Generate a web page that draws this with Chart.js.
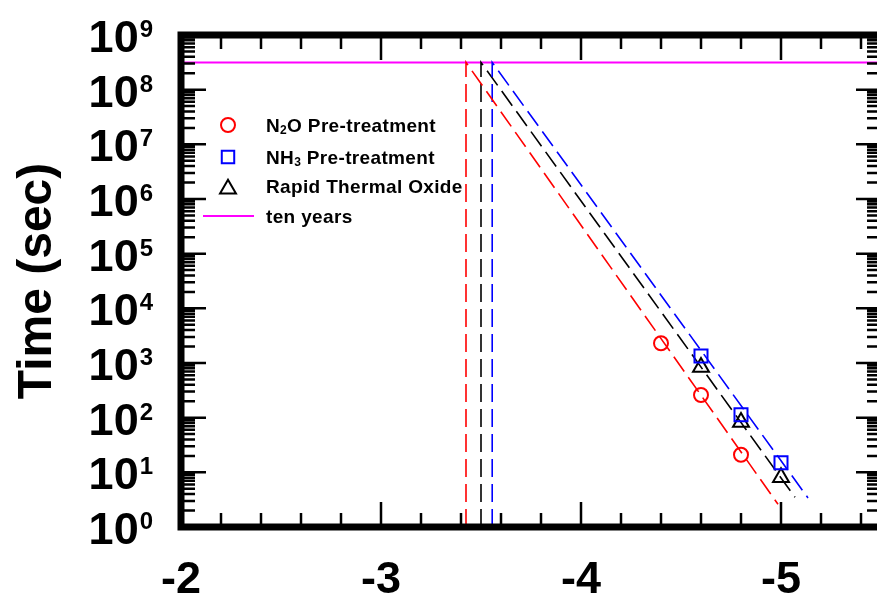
<!DOCTYPE html>
<html>
<head>
<meta charset="utf-8">
<script src="https://cdn.jsdelivr.net/npm/chart.js@4/dist/chart.umd.min.js"></script>
<style>
html, body { margin: 0; padding: 0; background: #fff; }
#frame { width: 877px; height: 601px; overflow: hidden; }
#chart { display: block; }
</style>
</head>
<body>
<div id="frame"><canvas id="chart" width="884" height="601"></canvas></div>
<script>
// stress bias (V) and time to breakdown (s) for each gate dielectric
const n2oBias = [-4.4, -4.6, -4.8];
const n2oTime = [2300, 260, 21];
const nh3Bias = [-4.6, -4.8, -5.0];
const nh3Time = [1340, 113, 15];
const rtoBias = [-4.6, -4.8, -5.0];
const rtoTime = [840, 83, 8.1];

// extrapolated fits: foot of the drop line, ten-year crossing, low end
const n2oFitBias = [-3.425, -3.425, -4.985];
const n2oFitTime = [1, 3.156e8, 2.6];
const nh3FitBias = [-3.556, -3.556, -5.135];
const nh3FitTime = [1, 3.156e8, 3.4];
const rtoFitBias = [-3.5, -3.5, -5.07];
const rtoFitTime = [1, 3.156e8, 3.5];

const tenYears = 3.156e8;
const biasRange = [-2, -5.5];
const xTickValues = [-2, -3, -4, -5];
const yTickExponents = [0, 1, 2, 3, 4, 5, 6, 7, 8, 9];

const FONT = "'Liberation Sans', Arial, sans-serif";
const RED = '#ff0000', BLUE = '#0000ff', BLACK = '#000000', MAGENTA = '#ff00ff';

const toPoints = (xs, ys) => xs.map((x, i) => ({ x, y: ys[i] }));

const markerSet = (label, xs, ys, color, style, radius) => ({
    label,
    data: toPoints(xs, ys),
    pointStyle: style,
    pointRadius: radius,
    borderColor: color,
    backgroundColor: 'rgba(0,0,0,0)',
    borderWidth: 2,
    showLine: false,
    isMarker: true
});

const fitSet = (label, xs, ys, color) => ({
    label,
    data: toPoints(xs, ys),
    showLine: true,
    borderColor: color,
    borderWidth: 1.6,
    borderDash: [18, 7],
    pointRadius: 0,
    fill: false
});

// subscript digits in labels get drawn small and dropped
const SUBS = { '₀': '0', '₁': '1', '₂': '2', '₃': '3', '₄': '4', '₅': '5', '₆': '6', '₇': '7', '₈': '8', '₉': '9' };

drawRichText = (ctx, text, x, baseline) => {
    const runs = text.match(/[₀-₉]+|[^₀-₉]+/g) || [];
    let cx = x;
    ctx.letterSpacing = '0.35px';
    runs.forEach(run => {
        const isSub = SUBS[run[0]] !== undefined;
        const s = isSub ? [...run].map(c => SUBS[c]).join('') : run;
        ctx.font = isSub ? `bold 12px ${FONT}` : `bold 19px ${FONT}`;
        ctx.fillText(s, cx, isSub ? baseline + 2.5 : baseline);
        cx += ctx.measureText(s).width;
    });
    ctx.letterSpacing = '0px';
}

// box frame, inward ticks, 10^n labels and the legend
const framePlugin = {
    id: 'frame',
    afterDraw(chart) {
        const { ctx, chartArea: a, scales: { x, y } } = chart;
        ctx.save();
        ctx.strokeStyle = BLACK;
        ctx.fillStyle = BLACK;

        ctx.lineWidth = 2.5;
        ctx.beginPath();
        for (let i = 0; i <= 17; i++) {
            const px = x.getPixelForValue(biasRange[0] - i * 0.2);
            const len = i % 5 === 0 ? 25 : 14;
            ctx.moveTo(px, a.bottom); ctx.lineTo(px, a.bottom - len);
            ctx.moveTo(px, a.top); ctx.lineTo(px, a.top + len);
        }
        for (let e = 0; e < 9; e++) {
            for (let m = 1; m < 10; m++) {
                const py = y.getPixelForValue(m * Math.pow(10, e));
                const len = m === 1 ? 25 : 14;
                ctx.moveTo(a.left, py); ctx.lineTo(a.left + len, py);
                ctx.moveTo(a.right, py); ctx.lineTo(a.right - len, py);
            }
        }
        ctx.stroke();

        ctx.lineWidth = 7;
        ctx.strokeRect(a.left, a.top, a.right - a.left, a.bottom - a.top);

        // y tick labels as 10 with a raised exponent
        ctx.textBaseline = 'alphabetic';
        ctx.textAlign = 'left';
        yTickExponents.forEach(k => {
            const py = y.getPixelForValue(Math.pow(10, k));
            ctx.font = `bold 24px ${FONT}`;
            const supW = ctx.measureText(String(k)).width;
            const supX = 153 - supW;
            ctx.fillText(String(k), supX, py + 2);
            ctx.font = `bold 45px ${FONT}`;
            const baseW = ctx.measureText('10').width;
            ctx.fillText('10', supX - 1 - baseW, py + 17);
        });

        // legend
        const rowY = [125, 157, 186.5, 216];
        const symX = 228, textX = 266;
        const entries = chart.data.datasets.filter(d => d.isMarker);
        entries.forEach((d, i) => {
            ctx.strokeStyle = d.borderColor;
            ctx.fillStyle = 'rgba(0,0,0,0)';
            ctx.lineWidth = 2;
            Chart.helpers.drawPoint(ctx, {
                pointStyle: d.pointStyle,
                radius: d.pointStyle === 'rect' ? 8.8 : d.pointStyle === 'triangle' ? 9.2 : 7,
                rotation: 0,
                borderWidth: 2
            }, symX, d.pointStyle === 'triangle' ? rowY[i] + 2.5 : rowY[i]);
            ctx.fillStyle = BLACK;
            drawRichText(ctx, d.label, textX, rowY[i] + 6.5);
        });
        const ten = chart.data.datasets.find(d => d.label === 'ten years');
        ctx.strokeStyle = ten.borderColor;
        ctx.lineWidth = 2;
        ctx.beginPath();
        ctx.moveTo(203, rowY[3]); ctx.lineTo(254, rowY[3]);
        ctx.stroke();
        ctx.fillStyle = BLACK;
        drawRichText(ctx, ten.label, textX, rowY[3] + 6.5);

        ctx.restore();
    }
};

new Chart(document.getElementById('chart'), {
    type: 'scatter',
    data: {
        datasets: [
            markerSet('N₂O Pre-treatment', n2oBias, n2oTime, RED, 'circle', 7),
            markerSet('NH₃ Pre-treatment', nh3Bias, nh3Time, BLUE, 'rect', 9.2),
            markerSet('Rapid Thermal Oxide', rtoBias, rtoTime, BLACK, 'triangle', 9.2),
            fitSet('N₂O fit', n2oFitBias, n2oFitTime, RED),
            fitSet('NH₃ fit', nh3FitBias, nh3FitTime, BLUE),
            fitSet('RTO fit', rtoFitBias, rtoFitTime, BLACK),
            {
                label: 'ten years',
                data: toPoints(biasRange, [tenYears, tenYears]),
                showLine: true,
                borderColor: MAGENTA,
                borderWidth: 2,
                pointRadius: 0
            }
        ]
    },
    options: {
        responsive: false,
        animation: false,
        // autoPadding would pull the right edge in by the marker radius
        layout: { autoPadding: false, padding: { top: 35, right: 3, left: 0, bottom: 0 } },
        plugins: { legend: { display: false }, tooltip: { enabled: false } },
        scales: {
            x: {
                type: 'linear',
                reverse: true,
                min: biasRange[1],
                max: biasRange[0],
                grid: { display: false, drawTicks: false },
                border: { display: false },
                afterBuildTicks: s => { s.ticks = xTickValues.map(v => ({ value: v })); },
                afterFit: s => {
                    s.height = 74;
                    s.paddingLeft = 0;
                    s.paddingRight = 0;
                },
                ticks: {
                    color: BLACK,
                    padding: 27,
                    maxRotation: 0,
                    autoSkip: false,
                    font: { family: FONT, size: 45, weight: 'bold' },
                    callback: v => String(v)
                }
            },
            y: {
                type: 'logarithmic',
                min: 1,
                max: 1e9,
                grid: { display: false, drawTicks: false },
                border: { display: false },
                ticks: { display: false },
                title: {
                    display: true,
                    text: 'Time (sec)',
                    color: BLACK,
                    font: { family: FONT, size: 48, weight: 'bold' },
                    padding: { top: 9, bottom: 0 }
                },
                afterFit: s => { s.width = 181; }
            }
        }
    },
    plugins: [framePlugin]
});
</script>
</body>
</html>
